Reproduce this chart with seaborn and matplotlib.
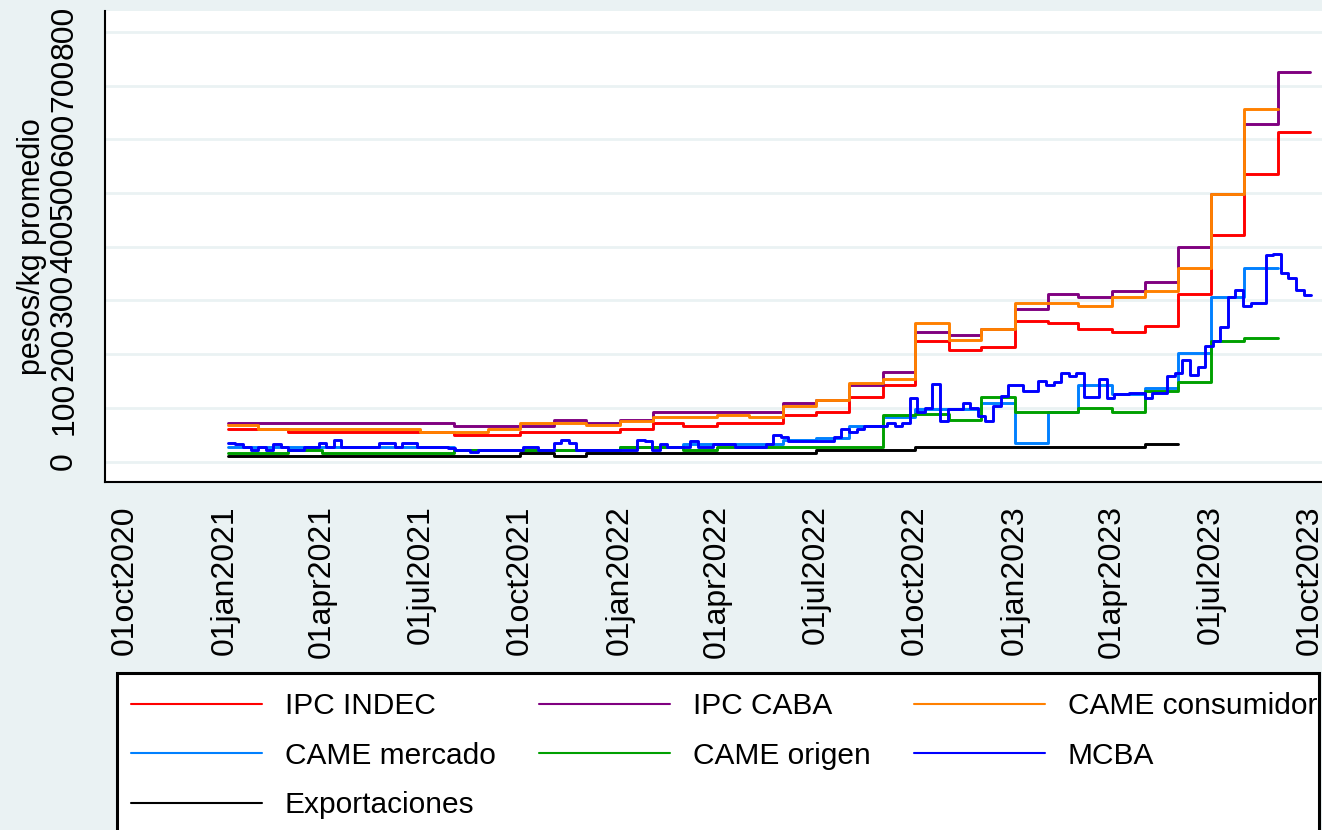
import pandas as pd
import matplotlib
matplotlib.use("Agg")
import matplotlib.pyplot as plt
from matplotlib.lines import Line2D
from matplotlib.patches import Rectangle
import seaborn as sns

sns.set_theme(style="white")
plt.rcParams['font.family'] = ['Liberation Sans', 'DejaVu Sans']
plt.rcParams['text.color'] = 'black'
plt.rcParams['axes.labelcolor'] = 'black'
plt.rcParams['xtick.color'] = 'black'
plt.rcParams['ytick.color'] = 'black'

BG = '#EAF2F3'

# monthly values (pesos/kg), first month = Jan 2021
ipc_indec = [61, 61, 55, 55, 55, 55, 55, 49, 49, 55, 55, 55,
             61, 72, 66, 72, 72, 87, 92, 120, 143, 225, 208, 213,
             262, 258, 247, 241, 252, 312, 422, 535, 613]
ipc_caba = [72, 72, 72, 72, 72, 72, 72, 66, 66, 66, 78, 72,
            78, 92, 92, 92, 92, 109, 115, 143, 166, 241, 236, 247,
            284, 312, 306, 318, 334, 399, 498, 629, 726]
came_consumidor = [68, 61, 61, 61, 61, 61, 55, 55, 61, 72, 72, 68,
                   75, 83, 83, 87, 83, 103, 115, 146, 154, 258, 226, 247,
                   295, 295, 290, 306, 317, 360, 498, 656]
came_mercado = [28, 28, 28, 28, 28, 28, 28, 22, 22, 22, 22, 22,
                28, 28, 33, 33, 33, 40, 44, 66, 83, 98, 98, 109,
                35, 92, 143, 125, 137, 203, 306, 360]
came_origen = [16, 16, 22, 16, 16, 16, 16, 22, 22, 22, 22, 22,
               28, 28, 22, 28, 28, 28, 28, 28, 87, 88, 78, 121,
               92, 92, 99, 93, 132, 148, 225, 231]
exportaciones = [11, 11, 11, 11, 11, 11, 11, 11, 11, 16, 11, 16,
                 16, 16, 16, 16, 16, 16, 22, 22, 22, 27, 27, 27,
                 27, 27, 27, 27, 33]

# weekly values, first week = 4 Jan 2021
mcba = [35, 33, 28, 22, 28, 22, 33, 28, 22, 22,
        28, 28, 35, 28, 40, 28, 28, 28, 28, 28,
        35, 35, 28, 35, 35, 28, 28, 28, 28, 25,
        22, 22, 17, 22, 22, 22, 22, 22, 22, 28,
        28, 22, 22, 35, 40, 35, 22, 22, 22, 22,
        22, 22, 22, 22, 40, 39, 22, 33, 28, 28,
        28, 39, 28, 28, 33, 33, 33, 28, 28, 28,
        28, 33, 50, 45, 39, 39, 39, 39, 39, 39,
        45, 61, 55, 61, 66, 66, 66, 72, 66, 72,
        118, 92, 100, 145, 75, 97, 97, 109, 99, 84,
        75, 103, 123, 143, 143, 132, 132, 150, 143, 149,
        165, 159, 165, 121, 121, 153, 118, 125, 125, 128,
        128, 118, 128, 128, 159, 165, 190, 162, 177, 215,
        224, 250, 307, 319, 290, 295, 295, 385, 387, 351,
        342, 320, 310]

series_names = ['IPC INDEC', 'IPC CABA', 'CAME consumidor', 'CAME mercado',
                'CAME origen', 'MCBA', 'Exportaciones']
series_colors = ['#FF0000', '#800080', '#FF8000', '#0080FF',
                 '#00A000', '#0000FF', '#000000']


def step_frame(values, name, freq):
    """Dates for a step series, with the last value held until the period ends."""
    if freq == 'W':
        dates = list(pd.date_range('2021-01-04', periods=len(values) + 1, freq='7D'))
    else:
        dates = list(pd.date_range('2021-01-01', periods=len(values) + 1, freq='MS'))
        dates[0] = pd.Timestamp('2021-01-04')
    vals = list(values) + [values[-1]]
    return pd.DataFrame({'fecha': dates, 'valor': vals, 'serie': name})


frames = [
    step_frame(ipc_indec, 'IPC INDEC', 'M'),
    step_frame(ipc_caba, 'IPC CABA', 'M'),
    step_frame(came_consumidor, 'CAME consumidor', 'M'),
    step_frame(came_mercado, 'CAME mercado', 'M'),
    step_frame(came_origen, 'CAME origen', 'M'),
    step_frame(mcba, 'MCBA', 'W'),
    step_frame(exportaciones, 'Exportaciones', 'M'),
]
data = pd.concat(frames, ignore_index=True)

fig = plt.figure(figsize=(13.22, 8.3), dpi=100, facecolor=BG)
ax = fig.add_axes([105 / 1322, (830 - 482) / 830, 1217 / 1322, 471 / 830])
ax.set_facecolor('white')

for name, color in zip(series_names, series_colors):
    sub = data[data['serie'] == name]
    sns.lineplot(data=sub, x='fecha', y='valor', color=color, lw=2.1,
                 drawstyle='steps-post', estimator=None, ax=ax)

# axes ranges
x0 = pd.Timestamp('2020-10-01') - pd.Timedelta(days=18.5)
x1 = pd.Timestamp('2023-10-01') + pd.Timedelta(days=11)
ax.set_xlim(x0, x1)
ax.set_ylim(-38, 839)

xticks = pd.date_range('2020-10-01', '2023-10-01', freq='QS-OCT')
ax.set_xticks(xticks)
ax.set_xticklabels([d.strftime('%d%b%Y').lower() for d in xticks],
                   rotation=90, fontsize=23)
yticks = list(range(0, 900, 100))
ax.set_yticks(yticks)
ax.set_yticklabels([str(v) for v in yticks], rotation=90, va='center', fontsize=23)

ax.tick_params(axis='both', direction='out', length=8.6, width=1.5,
               color='black', pad=8)
ax.tick_params(axis='y', pad=10)
ax.grid(axis='y', color=BG, lw=2)
ax.grid(axis='x', visible=False)
for side in ['top', 'right']:
    ax.spines[side].set_visible(False)
for side in ['left', 'bottom']:
    ax.spines[side].set_color('black')
    ax.spines[side].set_linewidth(1.5)

ax.set_xlabel('')
ax.set_ylabel('pesos/kg promedio', fontsize=22)
ax.yaxis.set_label_coords((47 - 105) / 1217, 0.5)

# legend box (wider than the figure on the right, as in the original)
box = Rectangle((117 / 1322, -0.05), (1319 - 117) / 1322, (830 - 673) / 830 + 0.05,
                transform=fig.transFigure, facecolor='white', edgecolor='black',
                lw=2.2, zorder=1)
fig.add_artist(box)

handles = [Line2D([], [], color=c, lw=1.5) for c in series_colors]
order = [0, 3, 6, 1, 4, 2, 5]
fig.legend([handles[i] for i in order], [series_names[i] for i in order],
           ncol=3, loc='upper left', bbox_to_anchor=(131 / 1322, 1 - 692 / 830),
           frameon=False, fontsize=21.5, handlelength=4.4, handletextpad=0.75,
           columnspacing=1.45, labelspacing=0.72, borderpad=0, borderaxespad=0)

fig.savefig('out.png', dpi=100, facecolor=BG)
